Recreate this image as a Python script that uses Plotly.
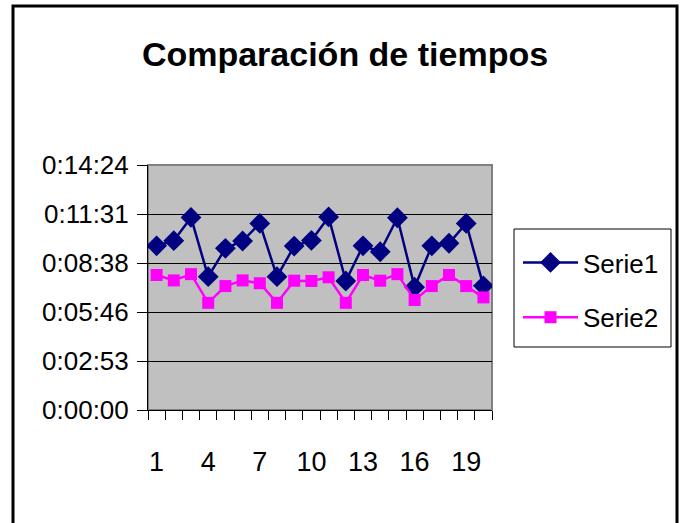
import plotly.graph_objects as go

categories = list(range(1, 21))
serie1 = ["0:09:39", "0:09:57", "0:11:19", "0:07:50", "0:09:30", "0:09:56", "0:10:58", "0:07:50", "0:09:38", "0:09:58",
          "0:11:21", "0:07:35", "0:09:39", "0:09:18", "0:11:18", "0:07:13", "0:09:39", "0:09:48", "0:10:58", "0:07:18"]
serie2 = ["0:07:56", "0:07:37", "0:07:59", "0:06:18", "0:07:17", "0:07:37", "0:07:27", "0:06:18", "0:07:36", "0:07:35",
          "0:07:48", "0:06:18", "0:07:56", "0:07:36", "0:07:59", "0:06:28", "0:07:17", "0:07:56", "0:07:17", "0:06:37"]
y_tick_seconds = [0, 172.8, 345.6, 518.4, 691.2, 864]
y_tick_labels = ["0:00:00", "0:02:53", "0:05:46", "0:08:38", "0:11:31", "0:14:24"]
x_tick_vals = [1, 4, 7, 10, 13, 16, 19]
x_tick_labels = ["1", "4", "7", "10", "13", "16", "19"]


def to_seconds(t):
    h, m, s = (int(p) for p in t.split(":"))
    return h * 3600 + m * 60 + s


FONT = "Liberation Sans, Arial, sans-serif"

fig = go.Figure()
fig.add_trace(go.Scatter(
    x=categories, y=[to_seconds(v) for v in serie1], name="Serie1", mode="lines+markers",
    legendgroup="a",
    line=dict(color="#000080", width=2.5),
    marker=dict(symbol="diamond", size=16, color="#000080"),
))
fig.add_trace(go.Scatter(
    x=categories, y=[to_seconds(v) for v in serie2], name="Serie2", mode="lines+markers",
    legendgroup="b",
    line=dict(color="#FF00FF", width=2.5),
    marker=dict(symbol="square", size=12, color="#FF00FF"),
))

L, R, T, B = 148, 190, 165, 113
W, H = 682, 523
pw, ph = W - L - R, H - T - B


def px(x):
    return (x - L) / pw


def py(y):
    return (H - B - y) / ph


fig.update_layout(
    width=W, height=H,
    margin=dict(l=L, r=R, t=T, b=B),
    paper_bgcolor="white",
    plot_bgcolor="#C0C0C0",
    font=dict(family=FONT, color="black", size=26),
    title=dict(text="<b>Comparación de tiempos</b>", xref="container", x=345 / W, xanchor="center",
               yref="container", y=1 - 54 / H, yanchor="middle",
               font=dict(family=FONT, size=34, color="black")),
    showlegend=True,
    legend=dict(x=px(518), y=py(239), xanchor="left", yanchor="top",
                bgcolor="rgba(0,0,0,0)", borderwidth=0,
                traceorder="grouped", tracegroupgap=18, itemwidth=55,
                font=dict(family=FONT, size=26, color="black")),
    xaxis=dict(range=[0.5, 20.5], tickmode="array", tickvals=x_tick_vals, ticktext=x_tick_labels,
               ticks="", showgrid=False, zeroline=False,
               showline=True, linecolor="black", linewidth=1,
               tickfont=dict(family=FONT, size=27),
               ticklabelstandoff=28,
               minor=dict(tickmode="array", tickvals=[i + 0.5 for i in range(0, 21)],
                          ticks="outside", ticklen=9, tickcolor="black", tickwidth=1, showgrid=False)),
    yaxis=dict(range=[0, 864], tickmode="array", tickvals=y_tick_seconds, ticktext=y_tick_labels,
               ticks="outside", ticklen=10, tickcolor="black", tickwidth=1,
               showgrid=True, gridcolor="black", gridwidth=1, zeroline=False,
               showline=True, linecolor="black", linewidth=1,
               tickfont=dict(family=FONT, size=26),
               ticklabelstandoff=3),
)

# plot area frame (grey) on top/right
fig.add_shape(type="rect", xref="paper", yref="paper", x0=0, y0=0, x1=1, y1=1,
              line=dict(color="#808080", width=2), layer="below")
# legend box
fig.add_shape(type="rect", xref="paper", yref="paper", x0=px(514), y0=py(347), x1=px(671), y1=py(229),
              line=dict(color="black", width=1), fillcolor="white", layer="below")
# outer chart border
fig.add_shape(type="rect", xref="paper", yref="paper", x0=px(13), y0=py(540), x1=px(677), y1=py(6),
              line=dict(color="black", width=3), fillcolor="rgba(0,0,0,0)")

fig.write_html("out.html", config={"displayModeBar": False},
               post_script="document.body.style.margin='0px';")
